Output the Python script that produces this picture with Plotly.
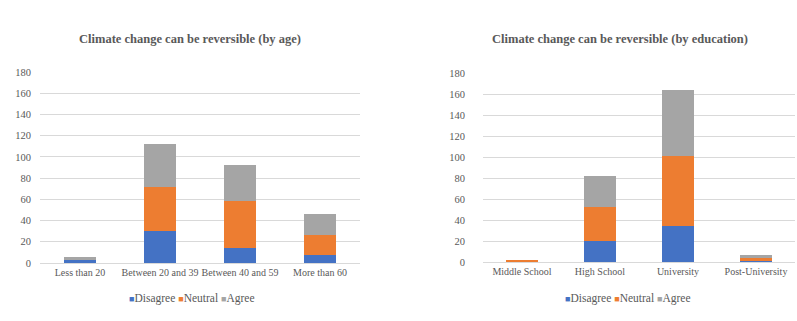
import plotly.graph_objects as go
from plotly.subplots import make_subplots

# values
age_groups = ["Less than 20", "Between 20 and 39", "Between 40 and 59", "More than 60"]
age_disagree = [3, 30, 14, 8]
age_neutral = [0, 42, 44, 18]
age_agree = [3, 40, 34, 20]

edu_groups = ["Middle School", "High School", "University", "Post-University"]
edu_disagree = [0, 20, 34, 1]
edu_neutral = [1, 32, 67, 3]
edu_agree = [0, 30, 63, 3]

y_ticks = [0, 20, 40, 60, 80, 100, 120, 140, 160, 180]
series_names = ["Disagree", "Neutral", "Agree"]

colors = {"Disagree": "#4472C4", "Neutral": "#ED7D31", "Agree": "#A5A5A5"}
serif = "Times New Roman, Liberation Serif, serif"
text_grey = "#595959"

fig = make_subplots(rows=1, cols=2)

series = zip(series_names, [age_disagree, age_neutral, age_agree], [edu_disagree, edu_neutral, edu_agree])
for name, age_vals, edu_vals in series:
    fig.add_trace(
        go.Bar(x=age_groups, y=age_vals, name=name, marker_color=colors[name],
               marker_line_width=0, showlegend=False),
        row=1, col=1,
    )
    fig.add_trace(
        go.Bar(x=edu_groups, y=edu_vals, name=name, marker_color=colors[name],
               marker_line_width=0, showlegend=False),
        row=1, col=2,
    )

# compact Excel-like legend: small coloured squares followed by the names
legend_text = " ".join(
    f"<span style='color:{colors[n]};font-size:9px'>■</span>{n}" for n in series_names
)


def label(text, x, y, size, bold=False):
    return dict(text=f"<b>{text}</b>" if bold else text, x=x, y=y,
                xref="paper", yref="paper", showarrow=False, xanchor="center", yanchor="middle",
                font=dict(family=serif, size=size, color=text_grey))


fig.update_layout(
    width=797,
    height=321,
    barmode="stack",
    bargap=0.6,
    plot_bgcolor="white",
    paper_bgcolor="white",
    margin=dict(l=0, r=0, t=0, b=0, autoexpand=False),
    font=dict(family=serif, size=10, color=text_grey),
    annotations=[
        label("Climate change can be reversible (by age)", 190 / 797, 1 - 39 / 321, 12.5, True),
        label("Climate change can be reversible (by education)", 620 / 797, 1 - 39 / 321, 12.5, True),
        label(legend_text, 192 / 797, 1 - 298 / 321, 11.5),
        label(legend_text, 628 / 797, 1 - 298 / 321, 11.5),
    ],
)

fig.update_xaxes(showgrid=False, showline=True, linecolor="#D9D9D9", ticks="", tickangle=0,
                 automargin=False, tickfont=dict(family=serif, size=10, color=text_grey))
fig.update_yaxes(range=[0, 180], tickvals=y_ticks, showgrid=True, gridcolor="#D9D9D9",
                 zeroline=False, showline=False, ticks="", automargin=False,
                 tickfont=dict(family=serif, size=10.5, color=text_grey))

fig.update_layout(
    xaxis=dict(domain=[40 / 797, 360 / 797]),
    xaxis2=dict(domain=[483 / 797, 795 / 797]),
    yaxis=dict(domain=[1 - 263 / 321, 1 - 72 / 321], ticklabelstandoff=8),
    yaxis2=dict(domain=[1 - 262 / 321, 1 - 73 / 321], ticklabelstandoff=17),
)

# drop the browser's default body margin so the figure fills the window exactly
fig.write_html(
    "out.html",
    config={"displayModeBar": False},
    post_script="document.body.style.margin='0';document.body.style.overflow='hidden';",
)
